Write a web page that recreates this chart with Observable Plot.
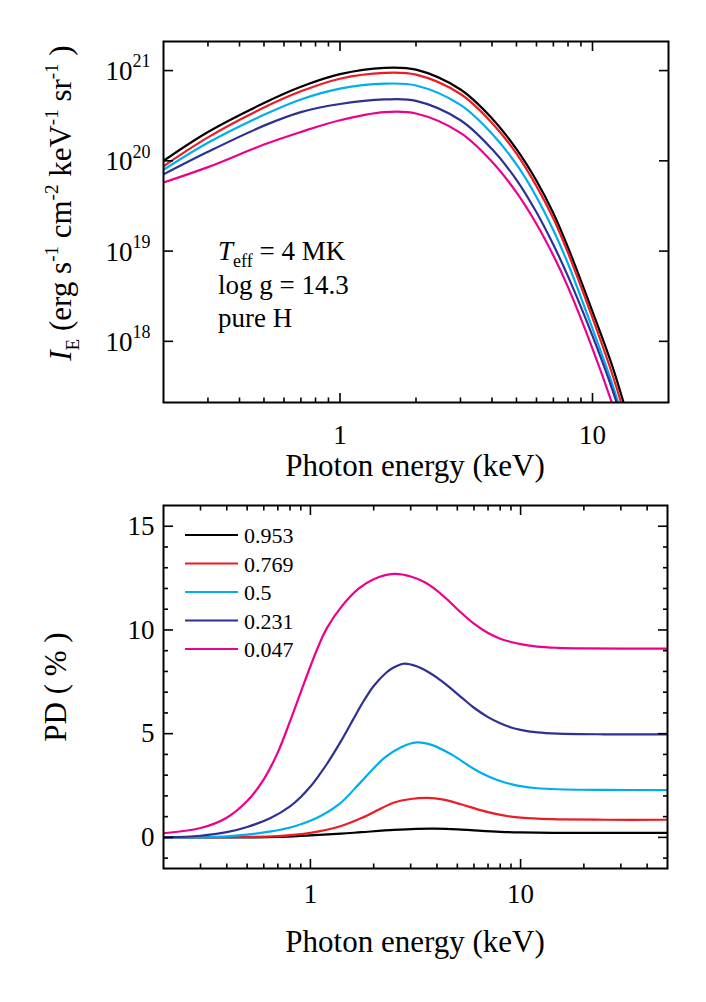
<!DOCTYPE html>
<html><head><meta charset="utf-8">
<script src="https://cdn.jsdelivr.net/npm/d3@7"></script>
<script src="https://cdn.jsdelivr.net/npm/@observablehq/plot@0.6"></script>
<style>
body{margin:0;background:#fff;}
#chart{width:706px;}
#chart svg{display:block;}
</style></head><body><div id="chart"></div>
<script>
const FONT = "'Liberation Serif','Times New Roman',serif";
const seriesNames = ["0.953", "0.769", "0.5", "0.231", "0.047"];
const seriesColors = ["#000000", "#ED1C24", "#00AEEF", "#2E3192", "#EC008C"];

// ---- top panel: log10 of I_E vs photon energy (keV)
const energyTop = [0.2, 0.3, 0.5, 0.7, 1, 1.5, 2, 3, 4, 5, 6, 7, 8, 10, 12, 14];
const logI_0953 = [20.00, 20.32, 20.64, 20.82, 20.96, 21.03, 21.01, 20.79, 20.47, 20.13, 19.78, 19.42, 19.04, 18.33, 17.72, 17.10];
const logI_0769 = [19.94, 20.26, 20.59, 20.77, 20.91, 20.975, 20.955, 20.74, 20.42, 20.08, 19.72, 19.36, 18.98, 18.26, 17.63, 17.01];
const logI_05   = [19.90, 20.20, 20.51, 20.68, 20.80, 20.855, 20.835, 20.62, 20.30, 19.96, 19.60, 19.23, 18.86, 18.14, 17.52, 16.90];
const logI_0231 = [19.85, 20.10, 20.39, 20.54, 20.63, 20.68, 20.665, 20.45, 20.13, 19.79, 19.43, 19.07, 18.72, 18.06, 17.46, 16.86];
const logI_0047 = [19.76, 19.93, 20.18, 20.32, 20.45, 20.54, 20.525, 20.31, 19.99, 19.65, 19.30, 18.95, 18.60, 17.92, 17.30, 16.70];

// ---- bottom panel: PD (%) vs photon energy (keV)
const pdE_0953 = [0.2, 0.5, 0.7, 1.0, 1.4, 1.75, 2.5, 3.2, 3.9, 5, 6, 8, 10, 15, 25, 50];
const pd_0953  = [0.0, 0.0, 0.02, 0.1, 0.18, 0.25, 0.36, 0.41, 0.42, 0.39, 0.34, 0.27, 0.24, 0.22, 0.22, 0.22];
const pdE_0769 = [0.2, 0.5, 0.7, 1.0, 1.4, 1.75, 2.2, 2.5, 3.0, 3.6, 4.3, 5.2, 6.5, 7.7, 9, 10, 12, 15, 25, 50];
const pd_0769  = [0.0, 0.02, 0.06, 0.22, 0.55, 0.93, 1.43, 1.68, 1.85, 1.9, 1.82, 1.6, 1.3, 1.12, 1.0, 0.95, 0.9, 0.87, 0.85, 0.85];
const pdE_05   = [0.2, 0.4, 0.65, 0.85, 1.07, 1.37, 1.75, 2.24, 2.7, 3.2, 3.8, 4.7, 6, 7, 8, 9, 10, 12, 15, 25, 50];
const pd_05    = [0.0, 0.05, 0.29, 0.55, 0.93, 1.6, 2.7, 3.82, 4.35, 4.58, 4.45, 3.99, 3.3, 2.95, 2.72, 2.57, 2.47, 2.37, 2.32, 2.29, 2.28];
const pdE_0231 = [0.2, 0.3, 0.4, 0.5, 0.65, 0.8, 0.9, 1.0, 1.1, 1.2, 1.4, 1.6, 1.75, 2.0, 2.3, 2.5, 2.77, 3.2, 3.67, 4.2, 4.7, 5.3, 6.0, 7, 8, 9, 10, 12, 15, 25, 50];
const pd_0231  = [0.0, 0.08, 0.25, 0.5, 0.95, 1.5, 1.95, 2.45, 3.0, 3.55, 4.65, 5.7, 6.4, 7.3, 7.95, 8.2, 8.37, 8.25, 7.95, 7.55, 7.15, 6.7, 6.25, 5.8, 5.5, 5.3, 5.18, 5.06, 5.0, 4.97, 4.97];
const pdE_0047 = [0.2, 0.3, 0.4, 0.5, 0.6, 0.7, 0.8, 0.9, 1.0, 1.1, 1.2, 1.4, 1.7, 2.0, 2.5, 3.0, 3.5, 4.0, 4.5, 5.0, 6.0, 7.0, 8.0, 9, 10, 12, 15, 20, 30, 50];
const pd_0047  = [0.2, 0.45, 0.95, 1.75, 2.8, 4.1, 5.6, 7.0, 8.25, 9.3, 10.1, 11.1, 12.0, 12.45, 12.7, 12.58, 12.3, 11.9, 11.45, 11.0, 10.3, 9.85, 9.58, 9.42, 9.32, 9.2, 9.14, 9.11, 9.1, 9.1];

// ---- ticks
const topXMajor = [1, 10];
const topXMinor = [0.3, 0.4, 0.5, 0.6, 0.7, 0.8, 0.9, 2, 3, 4, 5, 6, 7, 8, 9];
const topYMajor = [1e18, 1e19, 1e20, 1e21];
const topYExp = ["18", "19", "20", "21"];
const botXMajor = [1, 10];
const botXMinor = [0.3, 0.4, 0.5, 0.6, 0.7, 0.8, 0.9, 2, 3, 4, 5, 6, 7, 8, 9, 20, 30, 40];
const botYMajor = [0, 5, 10, 15];
const botYMinor = [-1, 1, 2, 3, 4, 6, 7, 8, 9, 11, 12, 13, 14];

// ---- build tables
const topSeries = [logI_0953, logI_0769, logI_05, logI_0231, logI_0047];
const topData = topSeries.flatMap((arr, k) => arr.map((v, i) => ({series: seriesNames[k], E: energyTop[i], I: Math.pow(10, v)})));
const botE = [pdE_0953, pdE_0769, pdE_05, pdE_0231, pdE_0047];
const botV = [pd_0953, pd_0769, pd_05, pd_0231, pd_0047];
const botData = botV.flatMap((arr, k) => arr.map((v, i) => ({series: seriesNames[k], E: botE[k][i], PD: v})));

const colorScale = {domain: seriesNames, range: seriesColors};
const blank = () => "";

function frameTicksX(major, minor) {
  return ["bottom", "top"].flatMap(a => [
    Plot.axisX(major, {anchor: a, tickSize: -9, tickFormat: blank, fill: "none", strokeWidth: 1.6, label: null}),
    Plot.axisX(minor, {anchor: a, tickSize: -4.5, tickFormat: blank, fill: "none", strokeWidth: 1.6, label: null})
  ]);
}
function frameTicksY(major, minor) {
  return ["left", "right"].flatMap(a => [
    Plot.axisY(major, {anchor: a, tickSize: -10, tickFormat: blank, fill: "none", strokeWidth: 1.6, label: null}),
    ...(minor ? [Plot.axisY(minor, {anchor: a, tickSize: -5, tickFormat: blank, fill: "none", strokeWidth: 1.6, label: null})] : [])
  ]);
}

const topPlot = Plot.plot({
  width: 706, height: 490,
  marginTop: 41, marginBottom: 88, marginLeft: 163, marginRight: 38,
  style: {fontFamily: FONT, fontSize: "27px", color: "#000", background: "#fff"},
  x: {type: "log", domain: [0.2, 20], label: null},
  y: {type: "log", domain: [2.1e17, 2.1e21], label: null},
  color: colorScale,
  marks: [
    Plot.line(topData, {x: "E", y: "I", z: "series", stroke: "series", strokeWidth: 2.2, curve: "catmull-rom", clip: true}),
    ...frameTicksX(topXMajor, topXMinor),
    ...frameTicksY(topYMajor, null),
    Plot.axisX(topXMajor, {anchor: "bottom", tickSize: 0, tickPadding: 22, fontSize: 27, tickFormat: d => String(d), label: null}),
    Plot.text(topYMajor, {y: d => d, frameAnchor: "left", text: () => "10", textAnchor: "end", dx: -31, dy: 1, fontSize: 27}),
    Plot.text(topYMajor, {y: d => d, frameAnchor: "left", text: (d, i) => topYExp[i], textAnchor: "end", dx: -13, dy: -9, fontSize: 18}),
    Plot.frame({strokeWidth: 2})
  ]
});

const botPlot = Plot.plot({
  width: 706, height: 512,
  marginTop: 15, marginBottom: 134, marginLeft: 163, marginRight: 39,
  style: {fontFamily: FONT, fontSize: "27px", color: "#000", background: "#fff"},
  x: {type: "log", domain: [0.2, 50], label: null},
  y: {domain: [-1.5, 16], label: null},
  color: colorScale,
  marks: [
    Plot.line(botData, {x: "E", y: "PD", z: "series", stroke: "series", strokeWidth: 2.2, curve: "catmull-rom", clip: true}),
    ...frameTicksX(botXMajor, botXMinor),
    ...frameTicksY(botYMajor, botYMinor),
    Plot.axisX(botXMajor, {anchor: "bottom", tickSize: 0, tickPadding: 15, fontSize: 27, tickFormat: d => String(d), label: null}),
    Plot.axisY(botYMajor, {anchor: "left", tickSize: 0, tickPadding: 9, fontSize: 27, tickFormat: d => String(d), label: null}),
    Plot.frame({strokeWidth: 2})
  ]
});

function richText(svg, {x, y, size, anchor = "start", rotate = 0, parts}) {
  const t = d3.select(svg).append("text")
    .attr("transform", `translate(${x},${y})${rotate ? ` rotate(${rotate})` : ""}`)
    .attr("text-anchor", anchor)
    .attr("font-family", FONT)
    .attr("font-size", size)
    .attr("fill", "#000");
  for (const p of parts) {
    const s = t.append("tspan").text(p.t);
    if (p.size) s.attr("font-size", p.size);
    if (p.dy) s.attr("dy", p.dy);
    if (p.italic) s.attr("font-style", "italic");
  }
  return t;
}

// top panel titles / annotation
richText(topPlot, {x: 71, y: 203, size: 31, anchor: "middle", rotate: -90, parts: [
  {t: "I", italic: true},
  {t: "E", size: 19, dy: 8},
  {t: " (erg s", dy: -8},
  {t: "-1", size: 19, dy: -13},
  {t: " cm", dy: 13},
  {t: "-2", size: 19, dy: -13},
  {t: " keV", dy: 13},
  {t: "-1", size: 19, dy: -13},
  {t: " sr", dy: 13},
  {t: "-1", size: 19, dy: -13},
  {t: " )", dy: 13}
]});
richText(topPlot, {x: 415, y: 476, size: 31, anchor: "middle", parts: [{t: "Photon energy (keV)"}]});
richText(topPlot, {x: 218, y: 260, size: 27, parts: [
  {t: "T", italic: true}, {t: "eff", size: 18, dy: 7}, {t: " = 4 MK", dy: -7}
]});
richText(topPlot, {x: 218, y: 294, size: 27, parts: [{t: "log g = 14.3"}]});
richText(topPlot, {x: 218, y: 327, size: 27, parts: [{t: "pure H"}]});

// bottom panel titles / legend
richText(botPlot, {x: 66, y: 197, size: 31, anchor: "middle", rotate: -90, parts: [{t: "PD ( % )"}]});
richText(botPlot, {x: 415, y: 462, size: 31, anchor: "middle", parts: [{t: "Photon energy (keV)"}]});
const leg = d3.select(botPlot).append("g");
seriesNames.forEach((name, i) => {
  const yy = 45 + i * 28.5;
  leg.append("line").attr("x1", 185).attr("x2", 238).attr("y1", yy).attr("y2", yy)
    .attr("stroke", seriesColors[i]).attr("stroke-width", 2.2);
  leg.append("text").attr("x", 244).attr("y", yy + 8).attr("font-family", FONT)
    .attr("text-anchor", "start")
    .attr("font-size", 22).attr("fill", "#000").text(name);
});

document.getElementById("chart").append(topPlot, botPlot);
</script></body></html>
